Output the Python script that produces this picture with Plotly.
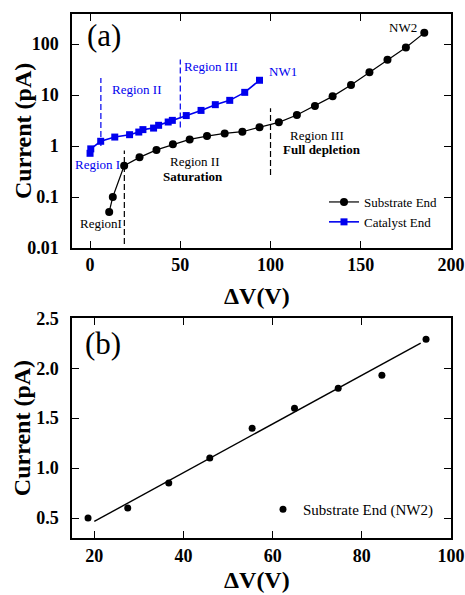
import numpy as np
import plotly.graph_objects as go

# ---------------- data ----------------
# Panel (a): current vs bias, log scale
substrate_x = [10.6, 12.6, 18.9, 27.4, 36.8, 45.9, 55.2, 64.8, 74.6, 84.4, 93.9,
               104.6, 114.6, 124.6, 134.4, 144.6, 154.8, 164.8, 175.0, 185.2]
substrate_y = [0.051, 0.10, 0.41, 0.60, 0.84, 1.08, 1.35, 1.57, 1.77, 1.91, 2.33,
               2.92, 4.05, 6.09, 9.43, 15.7, 27.9, 49.4, 86.0, 166.0]

catalyst_x = [0.0, 0.4, 5.9, 13.7, 21.9, 27.0, 29.3, 35.2, 38.0, 43.3, 45.6,
              53.3, 61.5, 69.4, 77.4, 85.7, 93.9]
catalyst_y = [0.72, 0.88, 1.24, 1.50, 1.67, 1.88, 2.10, 2.25, 2.55, 2.96, 3.19,
              3.96, 5.00, 6.48, 7.87, 11.3, 19.5]

# region boundaries (dashed markers): x position, y from, y to
blue_bounds_x = [6.0, 50.0]
blue_bounds_lo = [1.0, 2.3]
blue_bounds_hi = [21.5, 50.0]
black_bounds_x = [19.0, 100.0]
black_bounds_lo = [0.012, 0.27]
black_bounds_hi = [0.82, 5.5]

a_xticks = [0, 50, 100, 150, 200]
a_yticks = [0.01, 0.1, 1, 10, 100]
a_yticklabels = ["0.01", "0.1", "1", "10", "100"]

# Panel (b): linear fit of substrate end (NW2)
nw2_x = [18.6, 27.5, 36.7, 45.9, 55.4, 64.9, 74.7, 84.5, 94.4]
nw2_y = [0.50, 0.60, 0.85, 1.10, 1.40, 1.60, 1.80, 1.93, 2.29]
fit_slope = 0.0244
fit_intercept = -0.022
fit_xrange = [20.0, 93.2]

b_xticks = [20, 40, 60, 80, 100]
b_yticks = [0.5, 1.0, 1.5, 2.0, 2.5]
b_yticklabels = ["0.5", "1.0", "1.5", "2.0", "2.5"]

# ---------------- figure ----------------
FONT = "Liberation Serif, Times New Roman, serif"
BLUE = "#0000ee"

fig = go.Figure()

# dashed boundaries
for xv, lo, hi in zip(blue_bounds_x, blue_bounds_lo, blue_bounds_hi):
    fig.add_trace(go.Scatter(x=[xv, xv], y=[lo, hi], mode="lines",
                             line=dict(color=BLUE, width=1.2, dash="6px,3px"),
                             showlegend=False, hoverinfo="skip",
                             xaxis="x", yaxis="y"))
for xv, lo, hi in zip(black_bounds_x, black_bounds_lo, black_bounds_hi):
    fig.add_trace(go.Scatter(x=[xv, xv], y=[lo, hi], mode="lines",
                             line=dict(color="black", width=1.2, dash="6px,3px"),
                             showlegend=False, hoverinfo="skip",
                             xaxis="x", yaxis="y"))

fig.add_trace(go.Scatter(x=substrate_x, y=substrate_y, mode="lines+markers",
                         name="Substrate End",
                         line=dict(color="black", width=1.2),
                         marker=dict(symbol="circle", size=8, color="black"),
                         xaxis="x", yaxis="y", legend="legend"))
fig.add_trace(go.Scatter(x=catalyst_x, y=catalyst_y, mode="lines+markers",
                         name="Catalyst End",
                         line=dict(color=BLUE, width=1.6),
                         marker=dict(symbol="square", size=7, color=BLUE),
                         xaxis="x", yaxis="y", legend="legend"))

# panel (b)
fit_x = np.array(fit_xrange)
fit_y = fit_slope * fit_x + fit_intercept
fig.add_trace(go.Scatter(x=fit_x, y=fit_y, mode="lines",
                         line=dict(color="black", width=1.4),
                         showlegend=False, hoverinfo="skip",
                         xaxis="x2", yaxis="y2"))
fig.add_trace(go.Scatter(x=nw2_x, y=nw2_y, mode="markers",
                         name="Substrate End (NW2)",
                         marker=dict(symbol="circle", size=7, color="black"),
                         xaxis="x2", yaxis="y2", legend="legend2"))

# layout geometry
W, H = 465, 595
ML, MR, MT, MB = 72, 14, 14, 57
PH = H - MT - MB
PW = W - ML - MR
top_dom = [(H - MB - 248) / PH, 1.0]
bot_dom = [0.0, (H - MB - 318.3) / PH]

axis_common = dict(
    showline=True, linecolor="black", linewidth=1.5, mirror="ticks",
    ticks="inside", ticklen=7, tickwidth=1.2, tickcolor="black",
    showgrid=False, zeroline=False, automargin=False,
    tickfont=dict(family=FONT, size=18, color="black", weight="bold"),
)

fig.update_layout(
    width=W, height=H, autosize=False,
    margin=dict(l=ML, r=MR, t=MT, b=MB, pad=0, autoexpand=False),
    paper_bgcolor="white", plot_bgcolor="white",
    font=dict(family=FONT, color="black"),
    xaxis=dict(domain=[0, 1], anchor="y", range=[-10, 200], tickvals=a_xticks,
               ticklabelstandoff=0, **axis_common),
    yaxis=dict(domain=top_dom, anchor="x", type="log", range=[-2.0, 2.59],
               tickvals=a_yticks, ticktext=a_yticklabels,
               ticklabelstandoff=8, **axis_common),
    xaxis2=dict(domain=[0, 1], anchor="y2", range=[15, 100], tickvals=b_xticks,
                ticklabelstandoff=1, **axis_common),
    yaxis2=dict(domain=bot_dom, anchor="x2", range=[0.3, 2.5],
                tickvals=b_yticks, ticktext=b_yticklabels,
                ticklabelstandoff=8, **axis_common),
    legend=dict(x=(324 - ML) / PW, y=(H - MB - 187) / PH,
                xanchor="left", yanchor="top", bgcolor="rgba(0,0,0,0)",
                font=dict(family=FONT, size=13, color="black"),
                tracegroupgap=0, itemwidth=30),
    legend2=dict(x=(263 - ML) / PW, y=(H - MB - 493) / PH,
                 xanchor="left", yanchor="top", bgcolor="rgba(0,0,0,0)",
                 font=dict(family=FONT, size=15, color="black")),
    showlegend=True,
)

ann = []
# axis titles
title_font = dict(family=FONT, size=24, color="black", weight="bold")
top_mid = (top_dom[0] + top_dom[1]) / 2
bot_mid = (bot_dom[0] + bot_dom[1]) / 2
ann.append(dict(text="ΔV(V)", xref="paper", yref="paper", x=0.5, y=top_dom[0],
                yshift=-48, xshift=-5, showarrow=False, font=title_font,
                xanchor="center", yanchor="middle"))
ann.append(dict(text="ΔV(V)", xref="paper", yref="paper", x=0.5, y=bot_dom[0],
                yshift=-42, xshift=-5, showarrow=False, font=title_font,
                xanchor="center", yanchor="middle"))
ann.append(dict(text="Current (pA)", xref="paper", yref="paper", x=0, y=top_mid,
                xshift=-49, textangle=-90, showarrow=False, font=title_font,
                xanchor="center", yanchor="middle"))
ann.append(dict(text="Current (pA)", xref="paper", yref="paper", x=0, y=bot_mid,
                xshift=-50, textangle=-90, showarrow=False, font=title_font,
                xanchor="center", yanchor="middle"))

# panel labels
ann.append(dict(text="(a)", xref="x", yref="y", x=7.8, y=2.17, showarrow=False,
                font=dict(family=FONT, size=31, color="black")))
ann.append(dict(text="(b)", xref="x2", yref="y2", x=21.9, y=2.25, showarrow=False,
                font=dict(family=FONT, size=31, color="black")))

# region labels (log axis -> positions in log10)
small = dict(family=FONT, size=13)
labels = [
    ("Region II", 25.6, 1.112, BLUE, False),
    ("Region III", 66.9, 1.553, BLUE, False),
    ("NW1", 106.9, 1.455, BLUE, False),
    ("NW2", 173.3, 2.318, "black", False),
    ("Region I", 4.2, -0.369, BLUE, False),
    ("Region II", 58.1, -0.31, "black", False),
    ("Saturation", 56.9, -0.604, "black", True),
    ("RegionI", 6.1, -1.516, "black", False),
    ("Region III", 125.6, 0.2, "black", False),
    ("Full depletion", 128.7, -0.075, "black", True),
]
for txt, xv, yv, col, bold in labels:
    f = dict(small, color=col)
    if bold:
        f["weight"] = "bold"
    ann.append(dict(text=txt, xref="x", yref="y", x=xv, y=yv, showarrow=False,
                    font=f, xanchor="center", yanchor="middle"))

fig.update_layout(annotations=ann)

fig.write_html("out.html")
